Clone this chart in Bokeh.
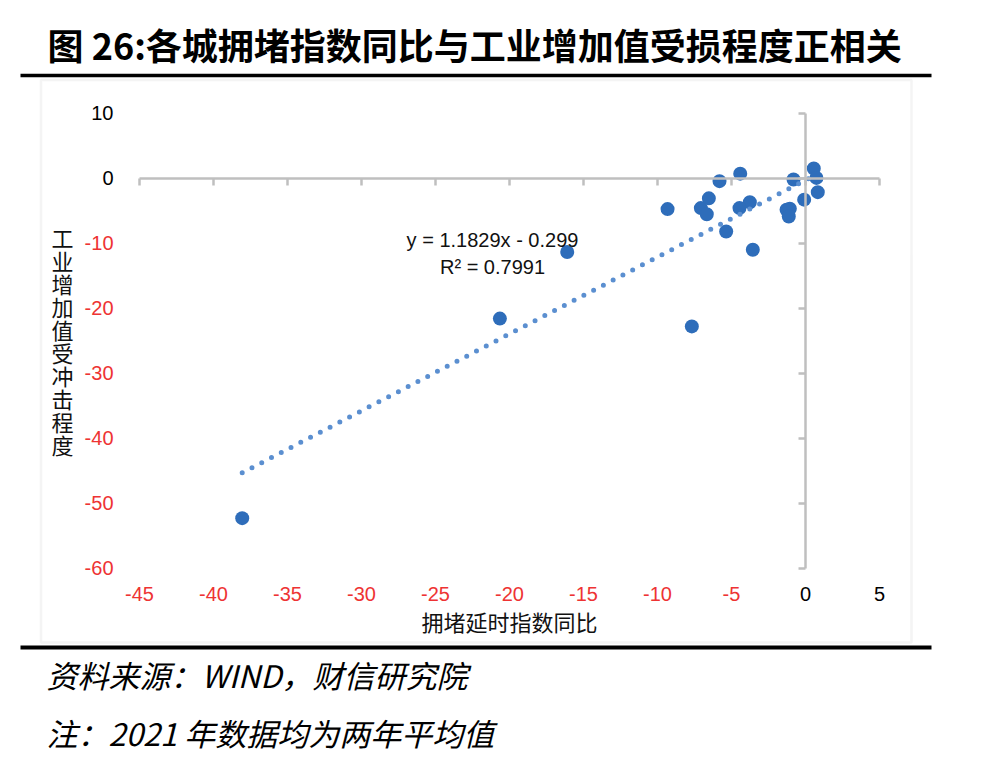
from bokeh.plotting import figure
from bokeh.models import (LinearAxis, FixedTicker, Label, BoxAnnotation, Range1d,
                          ColumnDataSource, CustomJSTickFormatter)
from bokeh.embed import file_html
from bokeh.resources import INLINE

# ---------------- data ----------------
title_text = "图 26:各城拥堵指数同比与工业增加值受损程度正相关"
x_axis_title = "拥堵延时指数同比"
y_axis_title = "工业增加值受冲击程度"
source_note = "资料来源：WIND，财信研究院"
footnote = "注：2021 年数据均为两年平均值"

congestion_yoy = [0.56, 0.74, 0.83, -0.09, -0.81, -1.28, -1.06, -1.13,
                  -4.41, -3.76, -4.46, -5.36, -3.56, -5.81, -6.53, -7.07,
                  -6.67, -9.32, -16.1, -20.65, -7.68, -38.06]
industrial_loss = [1.5, 0.05, -2.15, -3.3, -0.2, -4.85, -4.7, -5.9,
                   0.7, -3.7, -4.6, -8.2, -11.0, -0.45, -3.1, -4.6,
                   -5.55, -4.75, -11.35, -21.6, -22.8, -52.3]

x_ticks = [-45, -40, -35, -30, -25, -20, -15, -10, -5, 0, 5]
y_ticks = [10, 0, -10, -20, -30, -40, -50, -60]

trend_slope = 1.1829
trend_intercept = -0.299
trend_r2 = 0.7991

# ---------------- styling / geometry ----------------
W, H = 992, 768
PX0, SX = 805.0, 14.8      # page px of x=0, px per unit
PY0, SY = 177.7, 6.5       # page px of y=0, px per unit

def dx(px):
    return (px - PX0) / SX

def dy(py):
    return (PY0 - py) / SY

GRAY = "#BFBFBF"
RED = "#EE3333"
BLUE = "#2E6DBA"
TREND = "#5B8FD0"
CJK = "Noto Sans CJK SC"
NUM = "Liberation Sans"

p = figure(width=W, height=H,
           x_range=Range1d(dx(0), dx(W)),
           y_range=Range1d(dy(H), dy(0)),
           x_axis_type=None, y_axis_type=None,
           output_backend="svg", toolbar_location=None,
           min_border=0, min_border_left=0, min_border_right=0,
           min_border_top=0, min_border_bottom=0,
           outline_line_color=None, title=None)
p.background_fill_color = "white"
p.border_fill_color = "white"

blank = CustomJSTickFormatter(code="return ''")
plain = CustomJSTickFormatter(code="return tick.toString()")

# axis lines crossing at zero
x_line_axis = LinearAxis(fixed_location=0, bounds=(x_ticks[0], x_ticks[-1]),
                         ticker=FixedTicker(ticks=x_ticks, minor_ticks=[]),
                         formatter=blank,
                         axis_line_color=GRAY, axis_line_width=2.5,
                         major_tick_in=0, major_tick_out=7,
                         major_tick_line_color=GRAY, major_tick_line_width=2.5,
                         minor_tick_line_color=None)
y_line_axis = LinearAxis(fixed_location=0, bounds=(y_ticks[-1], y_ticks[0]),
                         ticker=FixedTicker(ticks=y_ticks, minor_ticks=[]),
                         formatter=blank,
                         axis_line_color=GRAY, axis_line_width=2.5,
                         major_tick_in=0, major_tick_out=7,
                         major_tick_line_color=GRAY, major_tick_line_width=2.5,
                         minor_tick_line_color=None)
p.add_layout(x_line_axis, "below")
p.add_layout(y_line_axis, "left")

def label_axis(ticks, color, loc, standoff, **kw):
    return LinearAxis(fixed_location=loc,
                      ticker=FixedTicker(ticks=ticks, minor_ticks=[]),
                      formatter=plain,
                      axis_line_color=None, major_tick_line_color=None,
                      minor_tick_line_color=None, major_tick_in=0, major_tick_out=0,
                      major_label_standoff=standoff,
                      major_label_text_color=color,
                      major_label_text_font=NUM,
                      major_label_text_font_size="20px", **kw)

y_min = min(y_ticks)
x_min = min(x_ticks)
xa_neg = label_axis([t for t in x_ticks if t < 0], RED, y_min, 19)
xa_pos = label_axis([t for t in x_ticks if t >= 0], "#000000", y_min, 19,
                    bounds=(x_ticks[0], x_ticks[-1]),
                    axis_label=x_axis_title, axis_label_standoff=0,
                    axis_label_text_font=CJK, axis_label_text_font_size="22px",
                    axis_label_text_font_style="normal",
                    axis_label_text_color="#111111")
ya_neg = label_axis([t for t in y_ticks if t < 0], RED, x_min, 26)
ya_pos = label_axis([t for t in y_ticks if t >= 0], "#000000", x_min, 26)
for a in (xa_neg, xa_pos):
    p.add_layout(a, "below")
for a in (ya_neg, ya_pos):
    p.add_layout(a, "left")

# points
src = ColumnDataSource(dict(x=congestion_yoy, y=industrial_loss))
p.scatter(x="x", y="y", source=src, size=14, fill_color=BLUE, line_color=None)

# linear trendline (Excel) over the data's x-range
tx = [min(congestion_yoy), max(congestion_yoy)]
ty = [trend_slope * v + trend_intercept for v in tx]
p.line(tx, ty, line_color=TREND, line_width=5, line_dash="0 11", line_cap="round")

eq_text = f"y = {trend_slope}x - {abs(trend_intercept)}"
r2_text = f"R² = {trend_r2}"
p.add_layout(Label(x=dx(492), y=dy(239.3), text=eq_text, text_align="center",
                   text_baseline="middle", text_font=NUM, text_font_size="20px",
                   text_color="#111111"))
p.add_layout(Label(x=dx(492), y=dy(266.7), text=r2_text, text_align="center",
                   text_baseline="middle", text_font=NUM, text_font_size="20px",
                   text_color="#111111"))

# y axis title (stacked characters)
p.add_layout(Label(x=dx(62), y=dy(340), text="\n".join(y_axis_title),
                   text_align="center", text_baseline="middle",
                   text_font=CJK, text_font_size="22px", text_line_height=0.72,
                   text_color="#111111"))

# chart frame box and document rules
p.add_layout(BoxAnnotation(left=dx(40.5), right=dx(911), top=dy(79.5), bottom=dy(642),
                           fill_color=None, line_color="#D9D9D9", line_width=2.5))
p.add_layout(BoxAnnotation(left=dx(20), right=dx(931), top=dy(73.2), bottom=dy(76.8),
                           fill_color="black", fill_alpha=1, line_color=None))
p.add_layout(BoxAnnotation(left=dx(20), right=dx(931), top=dy(645), bottom=dy(649),
                           fill_color="black", fill_alpha=1, line_color=None))

# title and notes
p.add_layout(Label(x=dx(47), y=dy(43), text=title_text, text_align="left",
                   text_baseline="middle", text_font=CJK, text_font_size="36px",
                   text_font_style="bold", text_color="#000000"))
p.add_layout(Label(x=dx(46), y=dy(674), text=source_note, text_align="left",
                   text_baseline="middle", text_font=CJK, text_font_size="31px",
                   text_font_style="italic", text_color="#000000"))
p.add_layout(Label(x=dx(46), y=dy(732), text=footnote, text_align="left",
                   text_baseline="middle", text_font=CJK, text_font_size="31px",
                   text_font_style="italic", text_color="#000000"))

open("out.html", "w").write(file_html(p, INLINE))
